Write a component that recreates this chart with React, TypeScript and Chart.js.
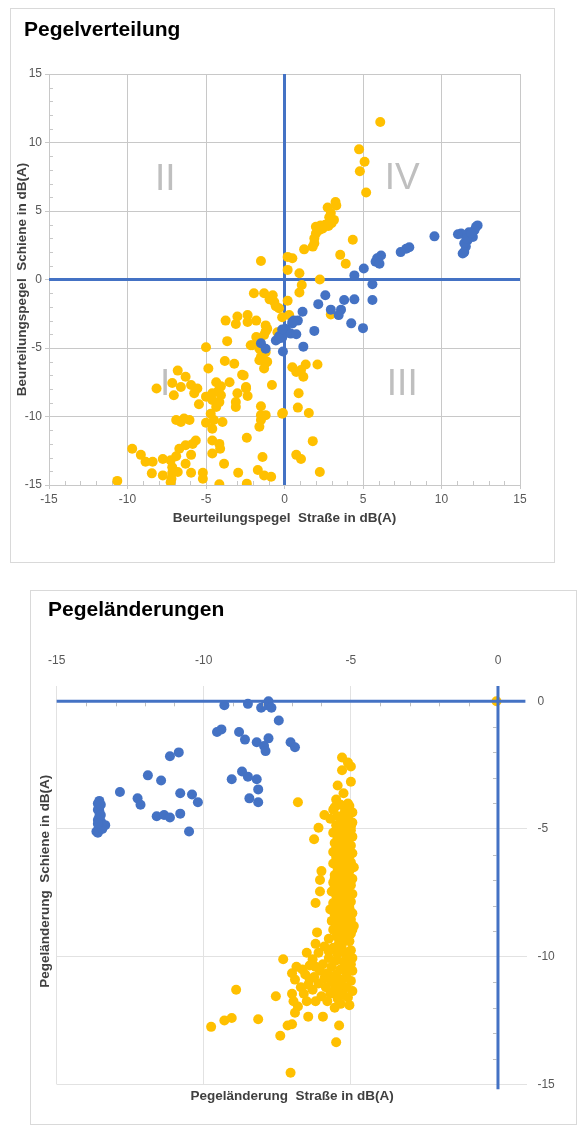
import React, { useEffect, useRef } from "react";
import { Chart, registerables } from "chart.js";

Chart.register(...registerables);

const FONT = "'Liberation Sans', Arial, Helvetica, sans-serif";
const YELLOW = "#FFC000";
const BLUE = "#4472C4";
const TOP_GRID = "#c8c8c8";
const BOTTOM_GRID = "#e2e2e2";
const TICK_COLOR = "#595959";
const TITLE_COLOR = "#404040";

// ---------- Chart 1: Pegelverteilung ----------
const topTitle = "Pegelverteilung";
const topXTitle = "Beurteilungspegel  Straße in dB(A)";
const topYTitle = "Beurteilungspegel  Schiene in dB(A)";
const topTicks = [-15, -10, -5, 0, 5, 10, 15];
const quadrantLabels = ["I", "II", "III", "IV"];
const quadrantX = [-7.6, -7.6, 7.5, 7.5];
const quadrantY = [-7.5, 7.5, -7.5, 7.6];

// yellow series: [Straße, Schiene]
const topYellow: [number, number][] = [
  [6.1, 11.5], [4.75, 9.5], [5.1, 8.6], [4.8, 7.9], [5.2, 6.35],
  [3.25, 5.65], [3.3, 5.4], [2.75, 5.25], [2.95, 4.85], [2.85, 4.55], [3.15, 4.35], [2.8, 3.9], [3.0, 4.1],
  [2.3, 3.95], [2.0, 3.85], [2.2, 3.6], [2.0, 3.35], [2.4, 3.7], [1.9, 3.0], [1.9, 2.65], [1.8, 2.4], [2.6, 4.0], [2.5, 3.8],
  [1.25, 2.2], [4.35, 2.9], [3.55, 1.8], [3.9, 1.15],
  [0.5, 1.55], [0.2, 1.65], [0.2, 0.7], [0.95, 0.45], [2.25, 0.0],
  [1.1, -0.4], [0.95, -0.95], [0.2, -1.55], [0.3, -2.6], [2.95, -2.55],
  [-1.5, 1.35],
  [-1.95, -1.0], [-1.3, -1.0], [-0.75, -1.15], [-0.95, -1.45], [-0.65, -1.65], [-0.55, -1.95], [-0.35, -2.1], [-0.15, -2.75],
  [-3.75, -3.0], [-3.0, -2.7], [-3.1, -3.25], [-2.35, -2.6], [-2.35, -3.1], [-1.8, -3.0], [-1.2, -3.35], [-1.1, -3.6], [-1.2, -3.8], [-0.45, -3.85],
  [-1.6, -4.3], [-2.15, -4.8], [-3.65, -4.5], [-5.0, -4.95],
  [-1.8, -4.2], [-1.3, -4.05], [-2.05, -4.8], [-1.6, -5.05], [-1.2, -5.3], [-1.4, -5.55], [-1.5, -5.65], [-1.3, -5.9], [-1.6, -5.9], [-1.2, -6.1], [-1.1, -6.0], [-1.3, -6.5],
  [-3.8, -5.95], [-3.2, -6.15], [-2.7, -6.95], [-4.85, -6.5], [-4.35, -7.5], [-4.05, -7.8], [-3.5, -7.5], [-2.45, -7.85], [-0.8, -7.7],
  [-6.8, -6.65], [-6.3, -7.1], [-7.15, -7.55], [-6.6, -7.85], [-7.05, -8.45], [-8.15, -7.95],
  [-5.95, -7.7], [-5.55, -7.95], [-5.75, -8.3], [-5.45, -9.1],
  [-4.6, -8.3], [-4.05, -8.45], [-5.0, -8.55], [-4.6, -8.8], [-4.15, -8.95], [-4.35, -9.3], [-4.2, -8.1],
  [-3.0, -8.3], [-3.1, -8.95], [-3.1, -9.3], [-2.6, -7.0], [-2.45, -7.95], [-2.35, -8.5],
  [-1.5, -9.25], [-1.5, -9.9], [-1.2, -9.9], [-1.5, -10.25], [-1.6, -10.75], [-0.15, -9.8],
  [-6.9, -10.25], [-6.6, -10.4], [-6.4, -10.15], [-6.05, -10.25],
  [-5.0, -10.45], [-4.7, -9.8], [-4.5, -10.25], [-4.6, -10.9], [-3.95, -10.4],
  [-9.7, -12.35], [-9.15, -12.8], [-8.85, -13.3], [-8.4, -13.3], [-7.75, -13.1], [-7.25, -13.2], [-6.9, -12.9], [-7.15, -13.7],
  [-6.7, -12.35], [-6.3, -12.1], [-5.95, -12.8], [-5.65, -11.75], [-5.85, -12.0], [-6.3, -13.45], [-5.95, -14.1], [-6.8, -14.05],
  [-7.15, -14.1], [-7.2, -14.55], [-7.25, -14.8], [-7.75, -14.3], [-8.45, -14.15], [-10.65, -14.7],
  [-5.2, -14.1], [-5.2, -14.55], [-4.6, -12.7], [-4.15, -12.0], [-4.1, -12.35], [-3.85, -13.45], [-4.15, -14.95], [-4.6, -11.75],
  [-2.95, -14.1], [-2.4, -11.55], [-2.4, -14.9], [-1.4, -12.95], [-1.7, -13.9], [-1.3, -14.3], [-0.85, -14.4],
  [0.5, -6.4], [0.75, -6.75], [1.05, -6.6], [1.35, -6.2], [1.2, -7.1], [2.1, -6.2], [0.9, -8.3], [0.85, -9.35],
  [1.55, -9.75], [-0.1, -9.75], [1.8, -11.8], [0.75, -12.8], [1.05, -13.1], [2.25, -14.05],
];

// blue series: [Straße, Schiene]
const topBlue: [number, number][] = [
  [12.3, 3.95], [12.2, 3.85], [12.1, 3.6], [11.75, 3.45], [11.85, 3.25], [12.0, 3.1], [11.25, 3.35], [11.05, 3.3],
  [11.65, 2.85], [11.55, 2.4], [11.45, 2.65], [11.45, 2.0], [11.35, 1.9], [11.6, 3.0], [11.9, 3.4],
  [9.55, 3.15], [7.95, 2.35], [7.75, 2.25], [7.4, 2.0],
  [6.15, 1.75], [5.9, 1.55], [5.8, 1.3], [6.05, 1.15],
  [5.05, 0.8], [4.45, 0.3], [5.6, -0.35], [5.6, -1.5], [3.8, -1.5], [4.45, -1.45], [2.6, -1.15], [2.15, -1.8],
  [3.6, -2.2], [2.95, -2.2], [3.45, -2.6],
  [1.15, -2.35], [0.85, -3.0], [0.5, -3.1], [0.6, -3.0], [4.25, -3.2], [5.0, -3.55], [1.9, -3.75],
  [0.05, -3.6], [0.2, -3.85], [0.4, -3.95], [0.75, -4.0], [-0.35, -4.15], [-0.55, -4.45], [-0.15, -4.25], [-0.15, -3.65], [0.5, -3.2],
  [1.2, -4.9], [-0.1, -5.25], [-1.5, -4.65], [-1.2, -5.05], [-0.35, -4.3],
];

// ---------- Chart 2: Pegeländerungen ----------
const bottomTitle = "Pegeländerungen";
const bottomXTitle = "Pegeländerung  Straße in dB(A)";
const bottomYTitle = "Pegeländerung  Schiene in dB(A)";
const bottomXTicks = [-15, -10, -5, 0];
const bottomYTicks = [-15, -10, -5, 0];

const bottomBlue: [number, number][] = [
  [-9.3, -0.15], [-8.5, -0.1], [-8.05, -0.25], [-7.9, -0.15], [-7.8, 0.0], [-7.7, -0.25],
  [-7.45, -0.75], [-9.55, -1.2], [-9.4, -1.1], [-8.8, -1.2], [-8.6, -1.5], [-8.2, -1.6], [-7.95, -1.75], [-7.9, -1.95],
  [-7.8, -1.45], [-7.05, -1.6], [-6.9, -1.8],
  [-11.15, -2.15], [-10.85, -2.0], [-11.9, -2.9], [-11.45, -3.1], [-12.85, -3.55], [-12.25, -3.8], [-12.15, -4.05],
  [-10.8, -3.6], [-10.4, -3.65], [-10.2, -3.95],
  [-11.6, -4.5], [-11.35, -4.45], [-11.15, -4.55], [-10.8, -4.4], [-10.5, -5.1],
  [-9.05, -3.05], [-8.7, -2.75], [-8.5, -2.95], [-8.2, -3.05], [-8.15, -3.45], [-8.45, -3.8], [-8.15, -3.95],
  [-13.55, -3.9], [-13.55, -4.1], [-13.55, -4.3], [-13.55, -4.5], [-13.5, -4.7], [-13.5, -4.9], [-13.4, -4.85],
  [-13.35, -4.85], [-13.65, -5.1], [-13.6, -5.15], [-13.45, -5.0], [-13.6, -4.0], [-13.6, -4.25], [-13.6, -4.65],
  [-13.5, -4.45], [-13.5, -4.05], [-13.6, -4.8],
];

const bottomYellow: [number, number][] = [
  [-0.05, 0],
  [-6.8, -3.95],
  [-5.3, -2.2], [-5.1, -2.4], [-5.0, -2.55], [-5.3, -2.7], [-5.0, -3.15], [-5.45, -3.3], [-5.25, -3.6], [-5.5, -3.85],
  [-5.1, -4.0], [-5.15, -4.15],
  [-5.9, -4.45], [-6.1, -4.95], [-6.25, -5.4],
  [-5.35, -4.05], [-5.05, -4.1], [-5.6, -4.25], [-5.2, -4.3], [-4.95, -4.35], [-5.45, -4.5], [-5.1, -4.55], [-5.7, -4.6],
  [-5.3, -4.7], [-4.95, -4.75], [-5.5, -4.85], [-5.15, -4.9], [-5.35, -5.0], [-5.0, -5.05], [-5.6, -5.15], [-5.25, -5.2],
  [-4.95, -5.3], [-5.45, -5.35], [-5.1, -5.45], [-5.55, -5.55], [-5.3, -5.6], [-5.0, -5.65], [-5.4, -5.75], [-5.15, -5.8],
  [-5.6, -5.9], [-4.95, -5.95], [-5.3, -6.0], [-5.5, -6.1], [-5.1, -6.15], [-5.0, -6.3], [-5.35, -6.3], [-5.6, -6.35],
  [-5.2, -6.45], [-4.9, -6.5], [-5.45, -6.55], [-5.05, -6.65], [-5.3, -6.75], [-5.55, -6.8], [-5.15, -6.9], [-4.95, -6.95],
  [-5.4, -7.0], [-5.6, -7.1], [-5.25, -7.15], [-5.0, -7.2], [-5.45, -7.3], [-5.1, -7.35], [-5.65, -7.45], [-5.3, -7.5],
  [-4.95, -7.55], [-5.5, -7.6], [-5.2, -7.7], [-5.4, -7.8], [-5.0, -7.85], [-5.6, -7.9], [-5.25, -7.95], [-5.45, -8.05],
  [-5.05, -8.1], [-5.7, -8.15], [-5.3, -8.2], [-4.95, -8.3], [-5.55, -8.35], [-5.15, -8.4], [-5.4, -8.5], [-5.0, -8.55],
  [-5.65, -8.6], [-5.25, -8.7], [-5.5, -8.75], [-4.9, -8.8], [-5.1, -8.9], [-5.6, -8.95], [-5.35, -9.0], [-5.0, -9.1],
  [-5.5, -9.2], [-5.2, -9.25], [-5.75, -9.3], [-5.05, -9.4], [-5.4, -9.45],
  [-5.25, -4.45], [-5.4, -5.1], [-5.2, -5.5], [-5.45, -6.25], [-5.3, -6.9], [-5.15, -7.5], [-5.35, -8.4], [-5.25, -9.1],
  [-5.55, -4.15], [-5.0, -4.9], [-5.5, -5.8], [-5.05, -6.05], [-5.55, -6.95], [-5.1, -7.85], [-5.5, -8.0], [-4.95, -8.95],
  [-5.3, -9.5],
  [-6.0, -6.65], [-6.05, -7.0], [-6.05, -7.45], [-6.2, -7.9], [-6.15, -9.05], [-6.2, -9.5], [-6.5, -9.85], [-7.3, -10.1],
  [-5.9, -9.6], [-5.6, -9.65], [-5.3, -9.7], [-5.0, -9.75], [-6.1, -9.85], [-5.45, -9.9], [-5.15, -9.95], [-4.95, -10.05],
  [-5.75, -10.05], [-6.3, -10.1], [-5.5, -10.15], [-5.25, -10.2], [-5.95, -10.3], [-5.0, -10.3], [-6.2, -10.4], [-5.65, -10.4],
  [-5.35, -10.5], [-6.05, -10.55], [-4.95, -10.55], [-5.8, -10.65], [-5.5, -10.7], [-5.15, -10.75], [-6.25, -10.8], [-5.9, -10.85],
  [-5.3, -10.9], [-5.0, -10.95], [-5.65, -11.0], [-6.1, -11.05], [-5.4, -11.1], [-5.15, -11.2], [-5.85, -11.2], [-6.3, -11.3],
  [-5.55, -11.3], [-4.95, -11.35], [-5.7, -11.45], [-5.25, -11.5], [-6.0, -11.55], [-5.45, -11.65], [-5.1, -11.6], [-5.8, -11.75],
  [-6.2, -11.75], [-5.35, -11.85], [-5.55, -12.0], [-5.05, -11.9], [-6.45, -11.1], [-6.4, -10.35], [-5.6, -10.9], [-5.2, -10.4],
  [-5.75, -9.8], [-5.4, -11.4],
  [-6.85, -10.4], [-7.0, -10.65], [-6.9, -10.9], [-6.65, -10.5], [-6.7, -11.2], [-7.0, -11.45], [-6.95, -11.75], [-6.8, -11.95],
  [-6.9, -12.2], [-6.5, -11.75], [-6.6, -11.45], [-6.4, -10.9], [-6.55, -10.7],
  [-7.55, -11.55], [-8.15, -12.45], [-7.4, -13.1], [-7.15, -12.7], [-7.0, -12.65], [-6.45, -12.35], [-5.95, -12.35],
  [-5.4, -12.7], [-5.5, -13.35], [-7.05, -14.55],
  [-9.75, -12.75], [-9.3, -12.5], [-9.05, -12.4], [-8.9, -11.3],
];

const toPoints = (arr: [number, number][]) => arr.map(([x, y]) => ({ x, y }));

const pointStyle = (color: string) => ({
  backgroundColor: color,
  borderColor: color,
  pointRadius: 5,
  pointHoverRadius: 5,
  pointBorderWidth: 0,
  showLine: false,
});

const setTicks = (values: number[]) => (scale: any) => {
  scale.ticks = values.map((v) => ({ value: v }));
};

function line(ctx: CanvasRenderingContext2D, x1: number, y1: number, x2: number, y2: number) {
  ctx.beginPath();
  ctx.moveTo(x1, y1);
  ctx.lineTo(x2, y2);
  ctx.stroke();
}

const topDeco = {
  id: "topDeco",
  beforeDatasetsDraw(chart: any) {
    const { ctx, chartArea: a, scales } = chart;
    const x = scales.x;
    const y = scales.y;
    ctx.save();
    // quadrant labels
    ctx.fillStyle = "#bfbfbf";
    ctx.font = `37px ${FONT}`;
    ctx.textAlign = "center";
    ctx.textBaseline = "alphabetic";
    quadrantLabels.forEach((t, i) => {
      ctx.fillText(t, x.getPixelForValue(quadrantX[i]), y.getPixelForValue(quadrantY[i]) + 13.2);
    });
    // minor ticks
    ctx.strokeStyle = TOP_GRID;
    ctx.lineWidth = 1;
    for (let v = -14; v <= 14; v++) {
      if (v % 5 === 0) continue;
      const py = Math.round(y.getPixelForValue(v)) + 0.5;
      line(ctx, a.left, py, a.left + 4, py);
      const px = Math.round(x.getPixelForValue(v)) + 0.5;
      line(ctx, px, a.bottom, px, a.bottom - 4);
    }
    // zero axes
    ctx.strokeStyle = BLUE;
    ctx.lineWidth = 3;
    const x0 = x.getPixelForValue(0);
    const y0 = y.getPixelForValue(0);
    line(ctx, x0, a.top, x0, a.bottom);
    line(ctx, a.left, y0, a.right, y0);
    ctx.restore();
  },
};

const bottomDeco = {
  id: "bottomDeco",
  afterDatasetsDraw(chart: any) {
    const { ctx, chartArea: a, scales } = chart;
    const x = scales.x;
    const y = scales.y;
    const x0 = x.getPixelForValue(0);
    const y0 = y.getPixelForValue(0);
    ctx.save();
    ctx.strokeStyle = "#bfbfbf";
    ctx.lineWidth = 1;
    for (let v = -14; v < 0; v++) {
      if (v % 5 === 0) continue;
      const px = Math.round(x.getPixelForValue(v)) + 0.5;
      line(ctx, px, y0 + 1.5, px, y0 + 5);
      const py = Math.round(y.getPixelForValue(v)) + 0.5;
      line(ctx, x0 - 5, py, x0 - 1.5, py);
    }
    ctx.strokeStyle = BLUE;
    ctx.lineWidth = 3;
    line(ctx, a.left, y0, a.right - 2, y0);
    line(ctx, x0, a.top, x0, a.bottom + 5);
    ctx.restore();
  },
  afterDraw(chart: any) {
    const { ctx, chartArea: a } = chart;
    ctx.save();
    ctx.fillStyle = TITLE_COLOR;
    ctx.font = `bold 13.5px ${FONT}`;
    ctx.textAlign = "center";
    ctx.textBaseline = "middle";
    ctx.fillText(bottomXTitle, (a.left + a.right) / 2, a.bottom + 12);
    ctx.translate(15, (a.top + a.bottom) / 2 - 4);
    ctx.rotate(-Math.PI / 2);
    ctx.fillText(bottomYTitle, 0, 0);
    ctx.restore();
  },
};

const tickFont = { family: FONT, size: 12 };
const axisTitleFont = { family: FONT, size: 13.5, weight: "bold" as const };

export default function App() {
  const topRef = useRef<HTMLCanvasElement>(null);
  const bottomRef = useRef<HTMLCanvasElement>(null);

  useEffect(() => {
    const top = new Chart(topRef.current as HTMLCanvasElement, {
      type: "scatter",
      data: {
        datasets: [
          { data: toPoints(topBlue), ...pointStyle(BLUE) },
          { data: toPoints(topYellow), ...pointStyle(YELLOW) },
        ],
      },
      options: {
        animation: false,
        responsive: false,
        maintainAspectRatio: false,
        events: [],
        layout: { padding: { left: 0, top: 66, right: 35, bottom: 20 } },
        plugins: { legend: { display: false }, tooltip: { enabled: false } },
        scales: {
          x: {
            type: "linear",
            position: "bottom",
            min: -15,
            max: 15,
            afterBuildTicks: setTicks(topTicks),
            afterFit: (s: any) => { s.height = 58; },
            grid: {
              color: (c: any) => (c.tick && c.tick.value === 0 ? "rgba(0,0,0,0)" : TOP_GRID),
              lineWidth: 1,
              drawTicks: true,
              tickLength: 4,
              tickColor: TOP_GRID,
              tickWidth: 1,
            },
            border: { display: true, color: TOP_GRID, width: 1 },
            ticks: { font: tickFont, color: TICK_COLOR, padding: 3, maxRotation: 0, autoSkip: false },
            title: { display: true, text: topXTitle, font: axisTitleFont, color: TITLE_COLOR, padding: { top: 0, bottom: 17 } },
          },
          y: {
            type: "linear",
            position: "left",
            min: -15,
            max: 15,
            afterBuildTicks: setTicks(topTicks),
            afterFit: (s: any) => { s.width = 39; },
            grid: {
              color: (c: any) => (c.tick && c.tick.value === 0 ? "rgba(0,0,0,0)" : TOP_GRID),
              lineWidth: 1,
              drawTicks: true,
              tickLength: 4,
              tickColor: TOP_GRID,
              tickWidth: 1,
            },
            border: { display: true, color: TOP_GRID, width: 1 },
            ticks: { font: tickFont, color: TICK_COLOR, padding: 3, autoSkip: false },
            title: { display: true, text: topYTitle, font: axisTitleFont, color: TITLE_COLOR, padding: { top: 4, bottom: 0 } },
          },
        },
      },
      plugins: [topDeco],
    });

    const bottom = new Chart(bottomRef.current as HTMLCanvasElement, {
      type: "scatter",
      data: {
        datasets: [
          { data: toPoints(bottomBlue), ...pointStyle(BLUE) },
          { data: toPoints(bottomYellow), ...pointStyle(YELLOW) },
        ],
      },
      options: {
        animation: false,
        responsive: false,
        maintainAspectRatio: false,
        events: [],
        layout: { padding: { left: 23, top: 40, right: 9.6, bottom: 40.7 } },
        plugins: { legend: { display: false }, tooltip: { enabled: false } },
        scales: {
          x: {
            type: "linear",
            position: "top",
            min: -15,
            max: 1,
            afterBuildTicks: setTicks(bottomXTicks),
            afterFit: (s: any) => { s.height = 56; },
            grid: {
              color: (c: any) => (c.tick && c.tick.value === 0 ? "rgba(0,0,0,0)" : BOTTOM_GRID),
              lineWidth: 1,
              drawTicks: false,
            },
            border: { display: false },
            ticks: { font: tickFont, color: TICK_COLOR, padding: 18, maxRotation: 0, autoSkip: false },
          },
          y: {
            type: "linear",
            position: "right",
            min: -15,
            max: 0.6,
            afterBuildTicks: setTicks(bottomYTicks),
            afterFit: (s: any) => { s.width = 40; },
            grid: {
              color: (c: any) => (c.tick && c.tick.value === 0 ? "rgba(0,0,0,0)" : BOTTOM_GRID),
              lineWidth: 1,
              drawTicks: false,
            },
            border: { display: false },
            ticks: { font: tickFont, color: TICK_COLOR, padding: 10, autoSkip: false },
          },
        },
      },
      plugins: [bottomDeco],
    });

    return () => {
      top.destroy();
      bottom.destroy();
    };
  }, []);

  const titleStyle: React.CSSProperties = {
    position: "absolute",
    fontFamily: FONT,
    fontWeight: "bold",
    fontSize: 21,
    lineHeight: "21px",
    color: "#000",
    whiteSpace: "nowrap",
  };

  return (
    <div style={{ position: "absolute", left: 0, top: 0, width: 581, height: 1129, background: "#fff" }}>
      <div style={{ position: "absolute", left: 10, top: 8, width: 543, height: 553, border: "1px solid #d9d9d9" }} />
      <canvas ref={topRef} width={545} height={555} style={{ position: "absolute", left: 10, top: 8 }} />
      <div style={{ ...titleStyle, left: 24, top: 18 }}>{topTitle}</div>

      <div style={{ position: "absolute", left: 30, top: 590, width: 545, height: 533, border: "1px solid #d9d9d9" }} />
      <canvas ref={bottomRef} width={547} height={535} style={{ position: "absolute", left: 30, top: 590 }} />
      <div style={{ ...titleStyle, left: 48, top: 598 }}>{bottomTitle}</div>
    </div>
  );
}
